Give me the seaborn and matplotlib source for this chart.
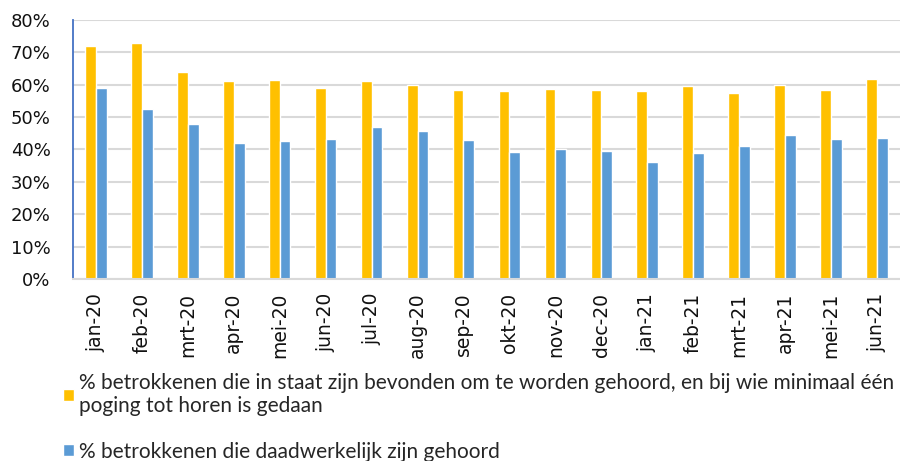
import numpy as np
import pandas as pd
import seaborn as sns
import matplotlib.pyplot as plt
from matplotlib.ticker import PercentFormatter

# Data
months = ["jan-20", "feb-20", "mrt-20", "apr-20", "mei-20", "jun-20", "jul-20", "aug-20",
          "sep-20", "okt-20", "nov-20", "dec-20", "jan-21", "feb-21", "mrt-21", "apr-21",
          "mei-21", "jun-21"]
attempted = [72.0, 72.9, 64.0, 61.2, 61.3, 59.1, 61.2, 59.9, 58.4, 58.1, 58.6, 58.4,
             58.0, 59.6, 57.3, 60.0, 58.4, 61.8]
heard = [59.1, 52.5, 47.7, 42.1, 42.7, 43.3, 46.9, 45.8, 43.0, 39.2, 40.0, 39.4,
         36.2, 38.9, 41.0, 44.3, 43.1, 43.5]

label_attempted = ("% betrokkenen die in staat zijn bevonden om te worden gehoord, en bij wie minimaal één\n"
                   "poging tot horen is gedaan")
label_heard = "% betrokkenen die daadwerkelijk zijn gehoord"

df = pd.DataFrame({
    "maand": months * 2,
    "waarde": attempted + heard,
    "reeks": [label_attempted] * len(months) + [label_heard] * len(months),
})

sns.set_style("white")
plt.rcParams["font.family"] = ["DejaVu Sans"]

fig = plt.figure(figsize=(9, 4.61), dpi=100)
ax = fig.add_axes([0.081, 0.395, 0.919, 0.562])

sns.barplot(data=df, x="maand", y="waarde", hue="reeks",
            palette=["#FFC000", "#5B9BD5"], width=0.47, gap=0,
            saturation=1, ax=ax, legend=True)

ax.set_ylim(0, 80)
ax.set_yticks(np.arange(0, 81, 10))
ax.yaxis.set_major_formatter(PercentFormatter(decimals=0))
ax.grid(axis="y", color="#D9D9D9", linewidth=1.5)
ax.set_axisbelow(True)
ax.set_xlabel("")
ax.set_ylabel("")

for s in ["top", "right"]:
    ax.spines[s].set_visible(False)
ax.spines["left"].set_color("#4472C4")
ax.spines["left"].set_linewidth(1.3)
ax.spines["bottom"].set_color("#D9D9D9")
ax.spines["bottom"].set_linewidth(1.5)

ax.tick_params(axis="y", length=5, width=1.3, color="#4472C4", labelsize=13, pad=11,
               labelcolor="#111111")
ax.tick_params(axis="x", length=0, labelsize=13.5, labelrotation=90, pad=10,
               labelcolor="#111111")

handles, labels = ax.get_legend_handles_labels()
ax.get_legend().remove()
fig.legend(handles, labels, loc="upper left", bbox_to_anchor=(0.061, 0.21),
           frameon=False, handlelength=0.5, handleheight=0.5, handletextpad=0.25,
           labelspacing=1.25, borderaxespad=0,
           prop={"family": ["Lato", "DejaVu Sans"], "size": 15})

fig.savefig("out.png", dpi=100)
